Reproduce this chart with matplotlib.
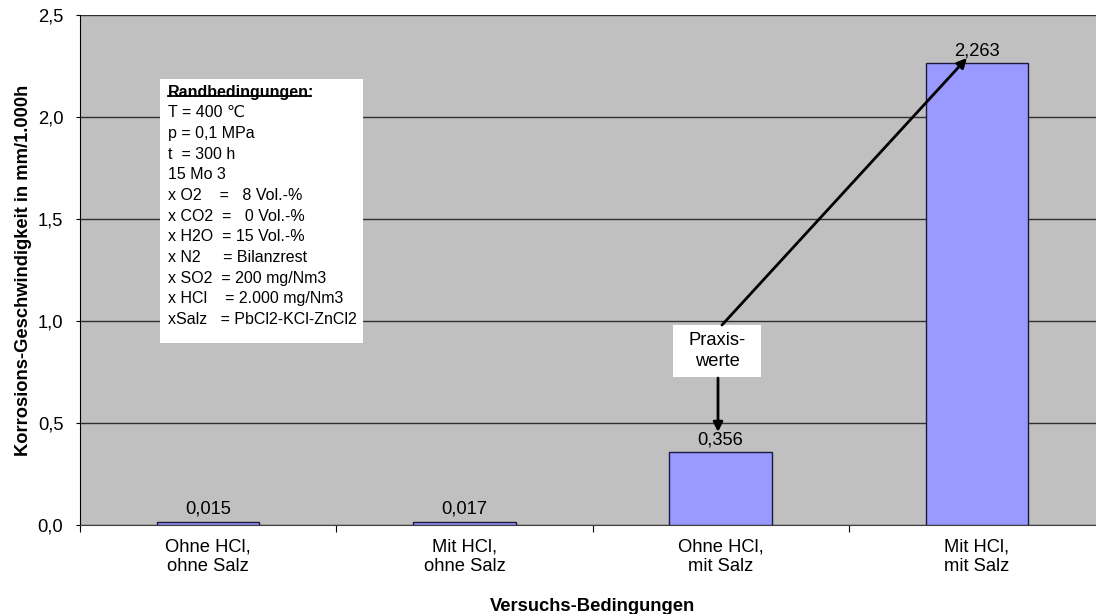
import matplotlib
matplotlib.use("Agg")
import matplotlib.pyplot as plt
from matplotlib.ticker import FixedLocator, NullFormatter
from matplotlib.patches import Rectangle
import numpy as np

plt.rcParams['font.family'] = ['Liberation Sans', 'DejaVu Sans']

categories = ["Ohne HCl,\nohne Salz", "Mit HCl,\nohne Salz", "Ohne HCl,\nmit Salz", "Mit HCl,\nmit Salz"]
values = [0.015, 0.017, 0.356, 2.263]
value_labels = ["0,015", "0,017", "0,356", "2,263"]
yticks = [0.0, 0.5, 1.0, 1.5, 2.0, 2.5]
ytick_labels = ["0,0", "0,5", "1,0", "1,5", "2,0", "2,5"]
conditions = ["Randbedingungen:", "T = 400 \u2103", "p = 0,1 MPa", "t  = 300 h", "15 Mo 3",
              "x O2    =   8 Vol.-%", "x CO2  =   0 Vol.-%", "x H2O  = 15 Vol.-%",
              "x N2     = Bilanzrest", "x SO2  = 200 mg/Nm3", "x HCl    = 2.000 mg/Nm3",
              "xSalz   = PbCl2-KCl-ZnCl2"]

FS = 13.2
W, H = 1096, 614
fig = plt.figure(figsize=(W / 100, H / 100), dpi=100)
ax = fig.add_axes([80 / W, (H - 525) / H, (1105 - 80) / W, 510 / H])
ax.set_facecolor('#C0C0C0')

x = np.arange(len(categories))
ax.bar(x, values, width=0.4, color='#9999FF', edgecolor='#1a1a40', linewidth=1.0, zorder=3)
for xi, v, lab in zip(x, values, value_labels):
    ax.text(xi, v + 0.02, lab, ha='center', va='bottom', fontsize=FS, zorder=4)

ax.set_xlim(-0.5, len(categories) - 0.5)
ax.set_ylim(0, 2.5)
ax.set_yticks(yticks)
ax.set_yticklabels(ytick_labels, fontsize=FS)
ax.yaxis.grid(True, color='#303030', linewidth=1.0, zorder=1)
ax.set_axisbelow(True)

ax.xaxis.set_major_locator(FixedLocator(np.arange(len(categories) + 1) - 0.5))
ax.xaxis.set_major_formatter(NullFormatter())
ax.xaxis.set_minor_locator(FixedLocator(x))
ax.set_xticklabels(categories, minor=True, fontsize=FS, linespacing=1.15)
ax.tick_params(axis='x', which='minor', length=0, pad=10)
ax.tick_params(axis='x', which='major', length=5, direction='out', color='black')
ax.tick_params(axis='y', length=3, direction='out', pad=9)

for s in ['top', 'right']:
    ax.spines[s].set_visible(False)
ax.spines['left'].set_color('black')
ax.spines['bottom'].set_color('#404040')

ax.set_ylabel("Korrosions-Geschwindigkeit in mm/1.000h", fontsize=FS, fontweight='bold', labelpad=4)
ax.set_xlabel("Versuchs-Bedingungen", fontsize=FS, fontweight='bold', labelpad=17)

def px2data(px, py):
    inv = ax.transData.inverted()
    return inv.transform(fig.transFigure.transform((px / W, 1 - py / H)))

# Conditions box (white rectangle)
x0, y0 = px2data(160, 343)
x1, y1 = px2data(363, 79)
ax.add_patch(Rectangle((x0, y0), x1 - x0, y1 - y0, facecolor='white', edgecolor='none', zorder=5))
tx, ty = px2data(168, 92)
_, ty2 = px2data(168, 112.7)
step = ty - ty2
txt_objs = []
for i, line in enumerate(conditions):
    t = ax.text(tx, ty - i * step, line, ha='left', va='center', fontsize=11.5,
                fontweight='bold' if i == 0 else 'normal', zorder=6)
    txt_objs.append(t)

fig.canvas.draw()
r = fig.canvas.get_renderer()
bb = txt_objs[0].get_window_extent(renderer=r)
inv = ax.transData.inverted()
(ux0, uy), (ux1, _) = inv.transform([(bb.x0, bb.y0 + 4), (bb.x1 - 5, bb.y0)])
ax.plot([ux0, ux1], [uy, uy], color='black', linewidth=1.3, zorder=7)

# Praxiswerte box
bx0, by0 = px2data(673, 377)
bx1, by1 = px2data(761, 325)
ax.add_patch(Rectangle((bx0, by0), bx1 - bx0, by1 - by0, facecolor='white', edgecolor='none', zorder=5))
ax.text((bx0 + bx1) / 2, (by0 + by1) / 2, "Praxis-\nwerte", ha='center', va='center',
        fontsize=FS, linespacing=1.3, zorder=6)

# arrows
a_s = px2data(722, 325)
a_e = px2data(967, 58)
ax.annotate("", xy=a_e, xytext=a_s,
            arrowprops=dict(arrowstyle='-|>', color='black', lw=2, mutation_scale=14, shrinkA=0, shrinkB=0),
            zorder=8)
d_s = px2data(718, 378)
d_e = px2data(718, 432)
ax.annotate("", xy=d_e, xytext=d_s,
            arrowprops=dict(arrowstyle='-|>', color='black', lw=2, mutation_scale=14, shrinkA=0, shrinkB=0),
            zorder=8)

fig.savefig("out.png", dpi=100)
